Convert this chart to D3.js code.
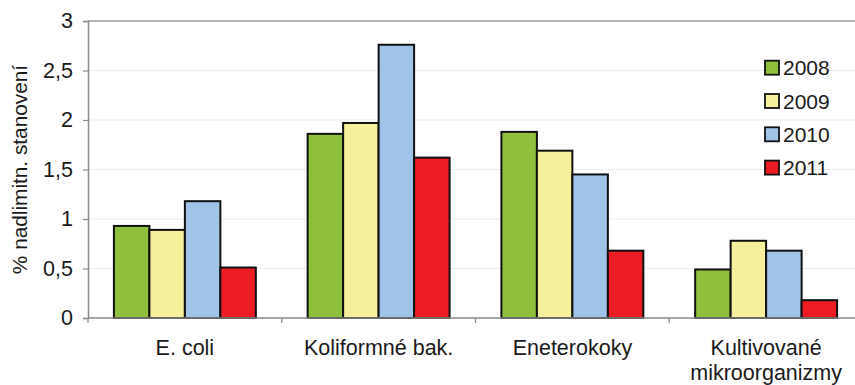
<!DOCTYPE html>
<html>
<head>
<meta charset="utf-8">
<script src="https://cdn.jsdelivr.net/npm/d3@7"></script>
<style>
  html, body { margin: 0; padding: 0; background: #fff; }
  svg { display: block; font-family: "Liberation Sans", Arial, sans-serif; }
</style>
</head>
<body>
<svg id="chart" width="855" height="385"></svg>
<script>
// Categories (x axis) and series by year
const categories = ["E. coli", "Koliformné bak.", "Eneterokoky", "Kultivované\nmikroorganizmy"];
const years = ["2008", "2009", "2010", "2011"];
const values2008 = [0.93, 1.86, 1.88, 0.49];
const values2009 = [0.89, 1.97, 1.69, 0.78];
const values2010 = [1.18, 2.76, 1.45, 0.68];
const values2011 = [0.51, 1.62, 0.68, 0.18];
const yTicks = [0, 0.5, 1, 1.5, 2, 2.5, 3];
const yTitle = "% nadlimitn. stanovení";

const seriesValues = [values2008, values2009, values2010, values2011];
const colors = ["#8fc03c", "#f6f09c", "#9fc4e7", "#ec1c24"];

const svg = d3.select("#chart");
const margin = { left: 88, right: -8, top: 21, bottom: 67 };
const W = 855, H = 385;

const x = d3.scaleBand()
  .domain(categories)
  .range([margin.left, W - margin.right])
  .paddingInner(0).paddingOuter(0);

const xs = d3.scaleBand()
  .domain(years)
  .range([0, x.bandwidth()])
  .paddingInner(0).paddingOuter(0.73);

const y = d3.scaleLinear().domain([0, 3]).range([H - margin.bottom, margin.top]);

const fmt = d => String(d).replace(".", ",");

// horizontal gridlines
svg.append("g")
  .selectAll("line")
  .data(yTicks.filter(t => t > 0 && t < 3))
  .join("line")
  .attr("x1", margin.left).attr("x2", W)
  .attr("y1", d => y(d)).attr("y2", d => y(d))
  .attr("stroke", "#ececec").attr("stroke-width", 1.2);

// plot frame (top edge)
svg.append("line")
  .attr("x1", margin.left).attr("x2", W)
  .attr("y1", y(3)).attr("y2", y(3))
  .attr("stroke", "#9a9a9a").attr("stroke-width", 1.5);

// bars
const groups = svg.append("g")
  .selectAll("g")
  .data(categories)
  .join("g")
  .attr("transform", d => `translate(${x(d)},0)`);

groups.selectAll("rect")
  .data((c, i) => years.map((yr, s) => ({ yr, s, v: seriesValues[s][i] })))
  .join("rect")
  .attr("x", d => xs(d.yr))
  .attr("y", d => y(d.v))
  .attr("width", xs.bandwidth())
  .attr("height", d => y(0) - y(d.v))
  .attr("fill", d => colors[d.s])
  .attr("stroke", "#111")
  .attr("stroke-width", 2);

// y axis
const yAxis = svg.append("g")
  .attr("transform", `translate(${margin.left},0)`)
  .call(d3.axisLeft(y).tickValues(yTicks).tickFormat(fmt).tickSize(5).tickPadding(10));
yAxis.select(".domain").attr("stroke", "#8a8a8a").attr("stroke-width", 1.5);
yAxis.selectAll(".tick line").attr("stroke", "#8a8a8a").attr("stroke-width", 1.2);
yAxis.selectAll(".tick text")
  .attr("font-size", 21.5).attr("fill", "#1a1a1a")
  .attr("font-family", "Liberation Sans, Arial, sans-serif");

// x axis line and category separators
const xAxis = svg.append("g");
xAxis.append("line")
  .attr("x1", margin.left).attr("x2", W)
  .attr("y1", y(0)).attr("y2", y(0))
  .attr("stroke", "#8a8a8a").attr("stroke-width", 1.5);
xAxis.selectAll("line.sep")
  .data(categories)
  .join("line")
  .attr("class", "sep")
  .attr("x1", d => x(d)).attr("x2", d => x(d))
  .attr("y1", y(0)).attr("y2", y(0) + 5)
  .attr("stroke", "#8a8a8a").attr("stroke-width", 1.2);

// category labels
xAxis.selectAll("text.cat")
  .data(categories)
  .join("text")
  .attr("class", "cat")
  .attr("text-anchor", "middle")
  .attr("font-size", 21.5)
  .attr("fill", "#1a1a1a")
  .attr("transform", d => `translate(${x(d) + x.bandwidth() / 2},355)`)
  .each(function (d) {
    const lines = d.split("\n");
    d3.select(this).selectAll("tspan")
      .data(lines)
      .join("tspan")
      .attr("x", 0)
      .attr("dy", (l, i) => i === 0 ? 0 : 25)
      .text(l => l);
  });

// y axis title
svg.append("text")
  .attr("transform", `translate(27,${(y(0) + y(3)) / 2}) rotate(-90)`)
  .attr("text-anchor", "middle")
  .attr("font-size", 20.8)
  .attr("fill", "#1a1a1a")
  .text(yTitle);

// legend
const legend = svg.append("g")
  .selectAll("g")
  .data(years)
  .join("g")
  .attr("transform", (d, i) => `translate(765,${67.7 + i * 33.3})`);
legend.append("rect")
  .attr("x", 0).attr("y", -7)
  .attr("width", 14).attr("height", 14)
  .attr("fill", (d, i) => colors[i])
  .attr("stroke", "#111").attr("stroke-width", 1.8);
legend.append("text")
  .attr("x", 18).attr("y", 0)
  .attr("dy", "0.36em")
  .attr("font-size", 21)
  .attr("fill", "#1a1a1a")
  .text(d => d);
</script>
</body>
</html>
